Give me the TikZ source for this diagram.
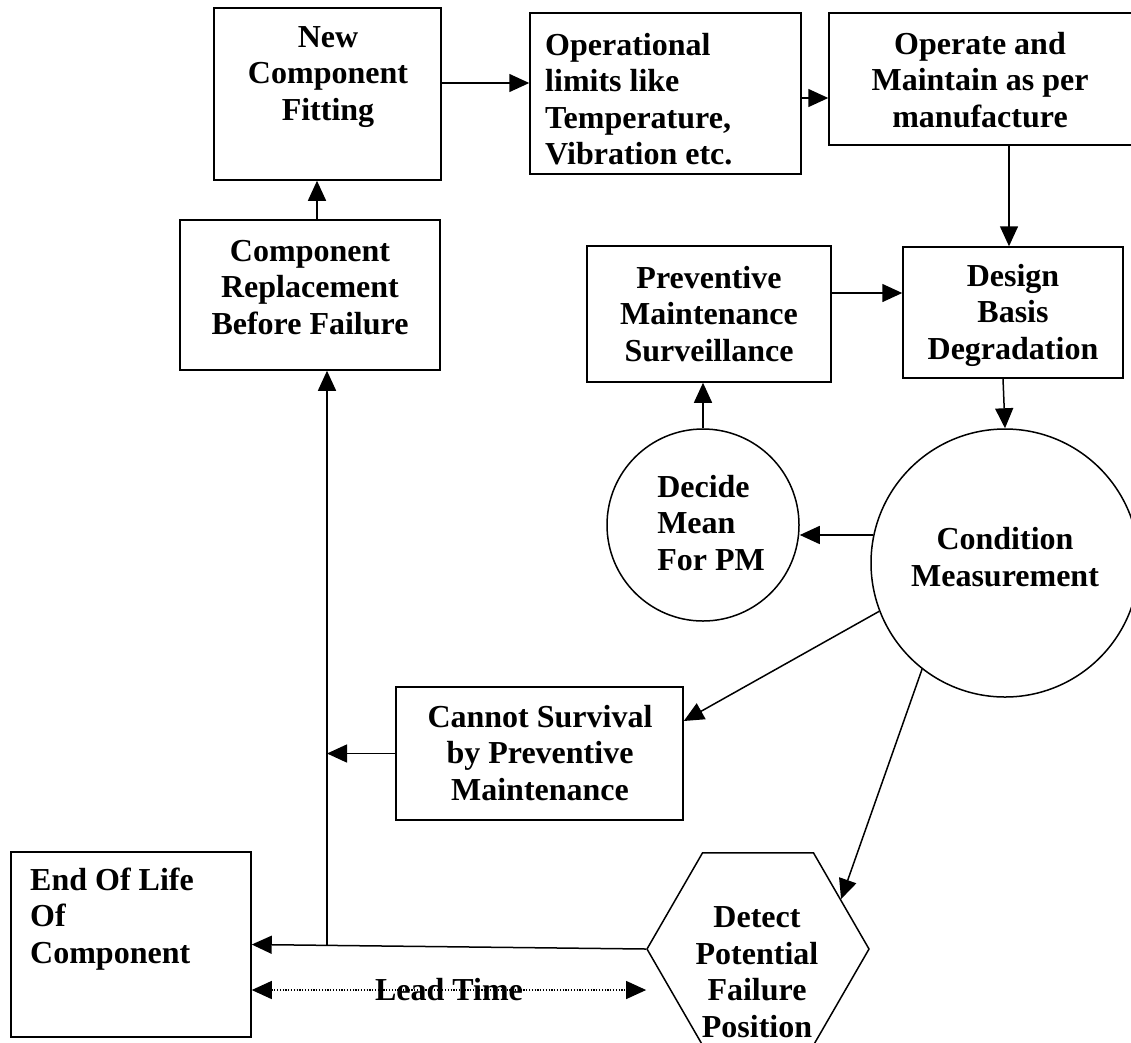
\documentclass[tikz,border=0pt]{standalone}
\usepackage{fontspec}
\setmainfont{Liberation Serif}
\usetikzlibrary{arrows.meta,shapes.geometric}

\tikzset{
    box/.style={draw, line width=1.5pt, inner sep=0pt},
    txt/.style={font=\bfseries\fontsize{32}{36.5}\selectfont, align=center, inner sep=0pt},
    arr/.style={line width=1.5pt, -{Triangle[length=20pt,width=18pt]}},
    dotarr/.style={line width=1.2pt, dash pattern=on 1.2pt off 1.6pt,
        {Triangle[length=20pt,width=18pt]}-{Triangle[length=20pt,width=18pt]}},
}

\begin{document}
\begin{tikzpicture}[x=1pt,y=-1pt]
    \useasboundingbox (0,0) rectangle (1131,1042);

    % Top row
    \node[box, minimum width=227, minimum height=172] (ncf) at (327.5,94) {};
    \node[txt] (ncf-t) at (328,77) {New\\Component\\Fitting};
    \node[box, minimum width=271, minimum height=161] (opl) at (665.5,93.5) {};
    \node[txt, align=left, anchor=west] (opl-t) at (545,99) {Operational\\limits like\\Temperature,\\Vibration etc.};
    \node[box, minimum width=306, minimum height=132] (omm) at (982,79) {};
    \node[txt] (omm-t) at (980,80) {Operate and\\Maintain as per\\manufacture};

    % Second row
    \node[box, minimum width=260, minimum height=150] (crb) at (310,295) {};
    \node[txt] (crb-t) at (310,287.5) {Component\\Replacement\\Before Failure};
    \node[box, minimum width=244, minimum height=136] (pms) at (709,314) {};
    \node[txt] (pms-t) at (709,314) {Preventive\\Maintenance\\Surveillance};
    \node[box, minimum width=220, minimum height=131] (dbd) at (1013,312.5) {};
    \node[txt] (dbd-t) at (1013,315) {Design\\Basis\\Degradation};

    % Circles
    \node[box, circle, minimum size=192] (dmp) at (703,525) {};
    \node[txt, align=left] (dmp-t) at (711,523) {Decide\\Mean\\For PM};
    \node[box, circle, minimum size=268] (cm) at (1005,563) {};
    \node[txt] (cm-t) at (1005,557) {Condition\\Measurement};

    % Lower part
    \node[box, minimum width=287, minimum height=133] (cps) at (539.5,753.5) {};
    \node[txt] (cps-t) at (540,753) {Cannot Survival\\by Preventive\\Maintenance};
    \node[box, minimum width=240, minimum height=185] (eol) at (131,944.5) {};
    \node[txt, align=left, anchor=west] (eol-t) at (30,919) {End Of Life\\Of\\Component};
    \node[box, regular polygon, regular polygon sides=6, minimum size=222] (hex) at (758,949) {};
    \node[txt] (hex-t) at (757,972) {Detect\\Potential\\Failure\\Position};

    % Junction on the return line
    \coordinate (jn) at (327,945);

    % Connectors
    \draw[arr] ([yshift=11pt]ncf.east) -- ([yshift=10.5pt]opl.west);
    \draw[arr] ([yshift=-4.5pt]opl.east) -- ([yshift=-19pt]omm.west);
    \draw[arr] ([xshift=27pt]omm.south) -- ([xshift=-4pt]dbd.north);
    \draw[arr] ([yshift=21pt]pms.east) -- ([yshift=19.5pt]dbd.west);
    \draw[arr] ([xshift=-10pt]dbd.south) -- (cm.north);
    \draw[arr] (cm.168) -- (dmp.east |- cm.168);
    \draw[arr] (dmp.north) -- (dmp.north |- pms.south);
    \draw[arr] (cm.201.5) -- ([yshift=32.5pt]cps.east);
    \draw[arr] (cm.232.5) -- (hex.31);
    \draw[arr] (cps.west) -- (cps.west -| jn);
    \draw[arr] (hex.west) -- (eol.east);
    \draw[arr] (jn) -- (jn |- crb.south);
    \draw[arr] ([xshift=7pt]crb.north) -- ([xshift=-10.5pt]ncf.south);

    % Lead time
    \draw[dotarr] ([yshift=-45.5pt]eol.east) -- node[txt] (lt) {Lead Time} ([yshift=-41pt]hex.west);
\end{tikzpicture}
\end{document}
